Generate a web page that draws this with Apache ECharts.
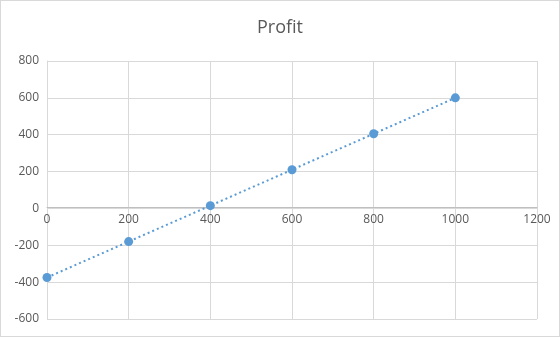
<!DOCTYPE html>
<html><head><meta charset="utf-8">
<script src="https://cdn.jsdelivr.net/npm/echarts@6/dist/echarts.min.js"></script>
<style>html,body{margin:0;padding:0;background:#fff}#c{width:560px;height:337px;box-sizing:border-box;border:1px solid #d9d9d9}</style>
</head><body><div id="c"></div>
<script>
const xValues = [0, 200, 400, 600, 800, 1000];
const profit = [-375, -180, 15, 210, 405, 600];
const chartTitle = 'Profit';
const data = xValues.map((x, i) => [x, profit[i]]);
const yMin = -600, yMax = 800;
const gridTop = 60, gridBottom = 17, H = 337;
const gridH = H - gridTop - gridBottom;
const zeroOffset = -gridH * (0 - yMin) / (yMax - yMin);
const chart = echarts.init(document.getElementById('c'), null, {renderer: 'canvas'});
const font = '"Open Sans", "Liberation Sans", sans-serif';
chart.setOption({
  animation: false,
  title: {text: chartTitle, left: 'center', top: 13, textStyle: {fontFamily: font, fontSize: 18, fontWeight: 'normal', color: '#595959'}},
  grid: {left: 46, right: 22, top: gridTop, bottom: gridBottom},
  xAxis: {type: 'value', min: 0, max: 1200, interval: 200,
    offset: zeroOffset,
    axisLine: {onZero: false, lineStyle: {color: '#bfbfbf', width: 1}},
    axisTick: {show: false},
    splitLine: {lineStyle: {color: '#d9d9d9'}},
    axisLabel: {color: '#595959', fontFamily: font, fontSize: 12, margin: 6, formatter: v => String(v)}},
  yAxis: {type: 'value', min: yMin, max: yMax, interval: 200,
    axisLine: {show: true, onZero: false, lineStyle: {color: '#d9d9d9'}},
    axisTick: {show: false},
    splitLine: {lineStyle: {color: '#d9d9d9'}},
    axisLabel: {color: '#595959', fontFamily: font, fontSize: 12, margin: 8, formatter: v => String(v)}},
  series: [{type: 'line', data: data, symbol: 'circle', symbolSize: 9,
    itemStyle: {color: '#5b9bd5'},
    lineStyle: {color: '#5b9bd5', width: 2, type: [2, 3]}}]
});
</script></body></html>
